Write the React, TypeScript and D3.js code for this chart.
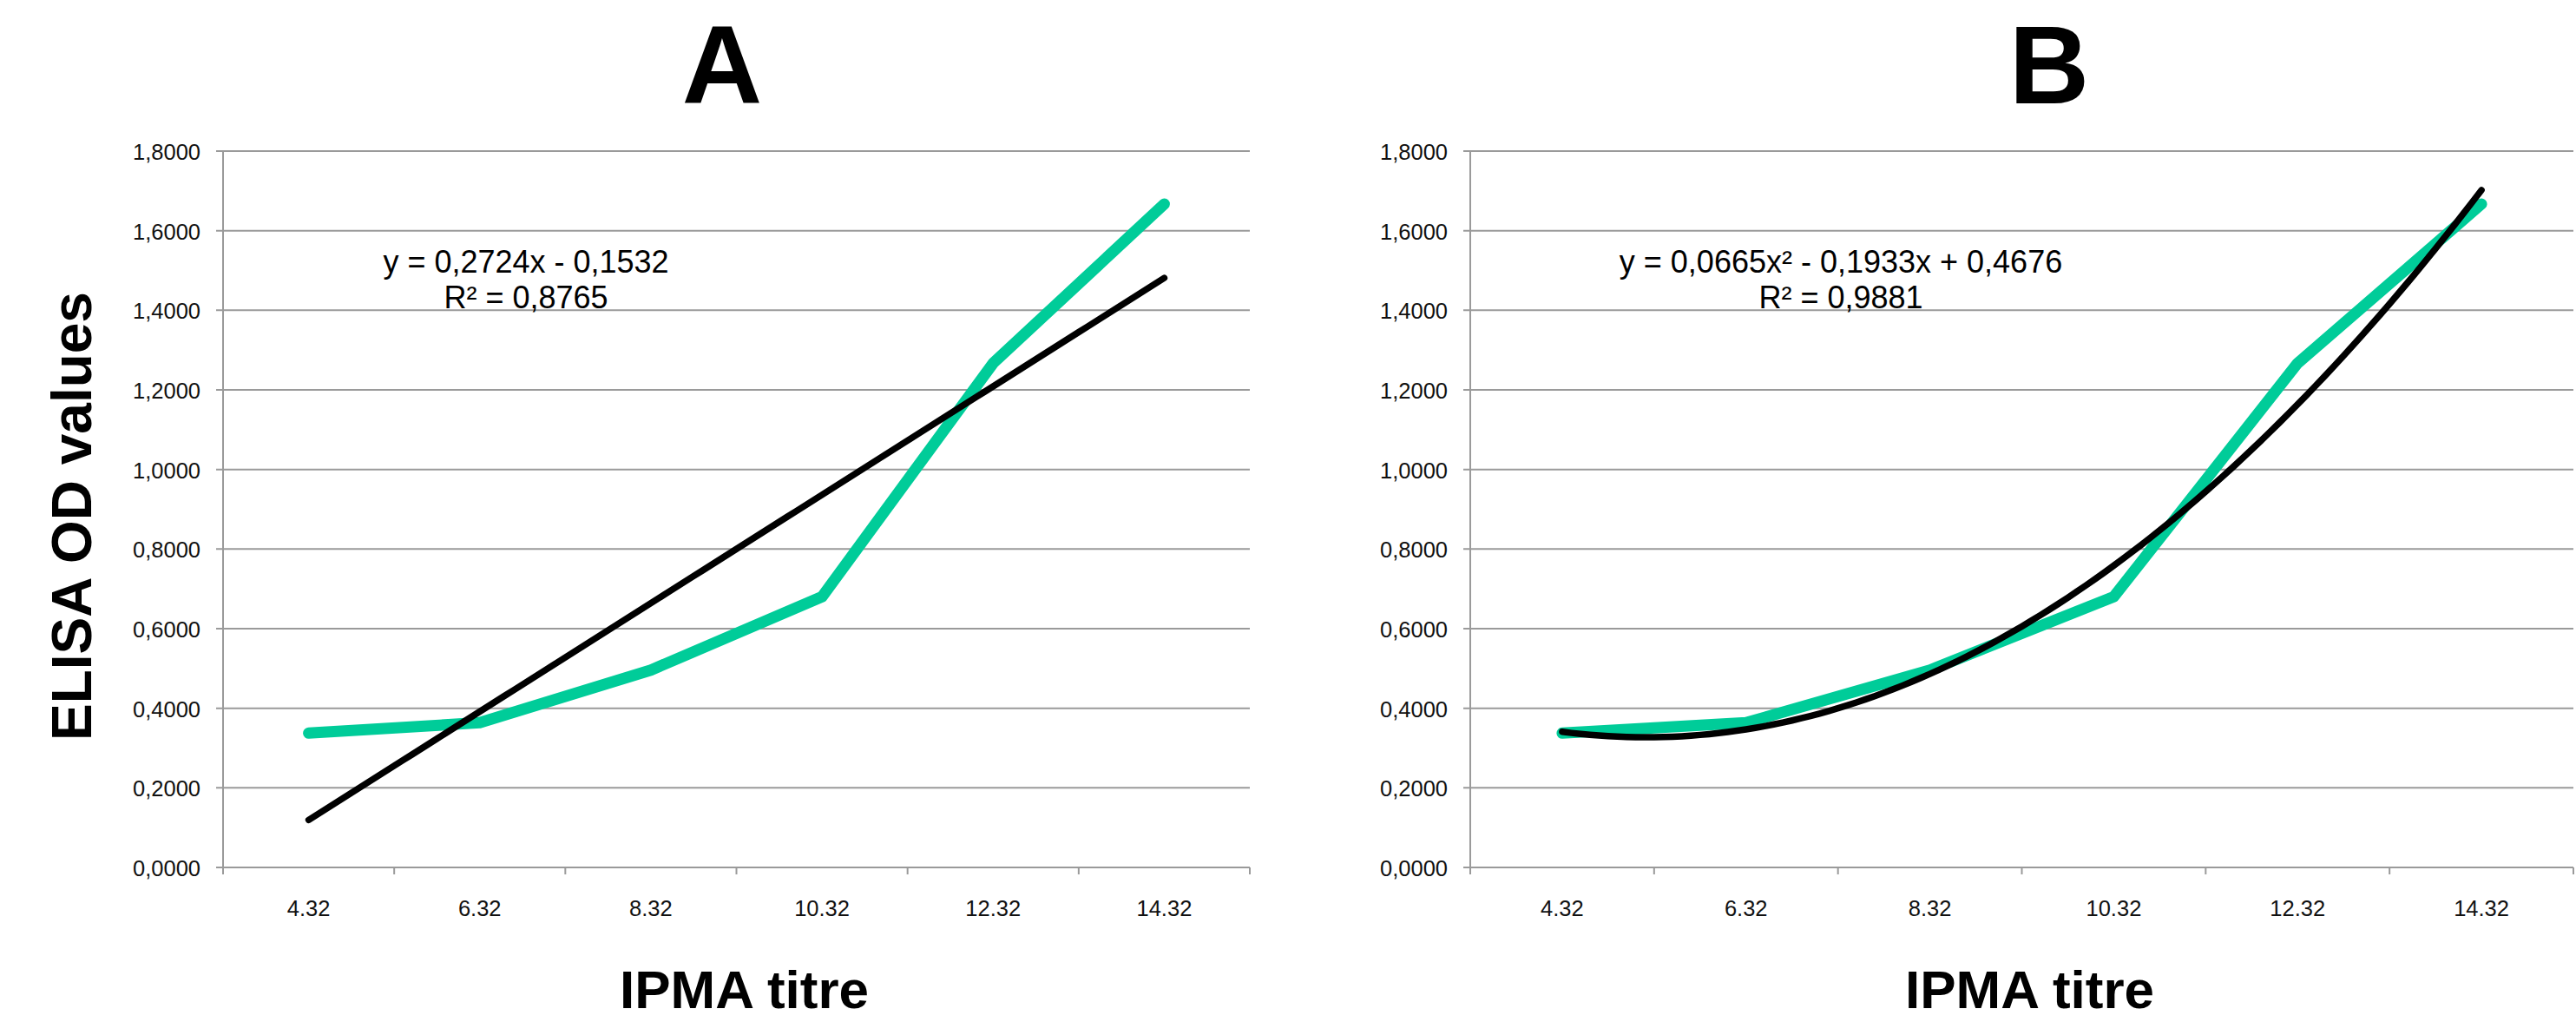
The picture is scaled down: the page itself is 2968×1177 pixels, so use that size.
import React from 'react';
import * as d3 from 'd3';

// IPMA titre categories and mean ELISA OD readings (same data on both panels)
const titres = ['4.32', '6.32', '8.32', '10.32', '12.32', '14.32'];
const odValues = [0.3375, 0.3637, 0.496, 0.68, 1.267, 1.667];
const yTicks = [0, 0.2, 0.4, 0.6, 0.8, 1.0, 1.2, 1.4, 1.6, 1.8];

// Excel trendline coefficients, highest power first, x = category index 1..6
const linearFit = [0.2724, -0.1532];
const quadFit = [0.0665, -0.1933, 0.4676];
const linearLabel = ['y = 0,2724x - 0,1532', 'R² = 0,8765'];
const quadLabel = ['y = 0,0665x² - 0,1933x + 0,4676', 'R² = 0,9881'];

const W = 2968;
const H = 1177;
const TOP = 174;
const BOTTOM = 999;
const FONT = 'Arial, "Liberation Sans", sans-serif';
const GREEN = '#00cc99';
const GRID = '#9a9a9a';

const polyAt = (c: number[], x: number) => c.reduce((acc, k) => acc * x + k, 0);
const fmtTick = (v: number) => d3.format('.4f')(v).replace('.', ',');

interface PanelProps {
  left: number;
  right: number;
  title: string;
  titleX: number;
  fit: number[];
  label: string[];
  labelX: number;
  yTitle?: boolean;
}

function Panel({ left, right, title, titleX, fit, label, labelX, yTitle }: PanelProps) {
  const y = d3.scaleLinear().domain([0, 1.8]).range([BOTTOM, TOP]);
  const band = d3.scaleBand<string>().domain(titres).range([left, right]).padding(0);
  // continuous index scale so the trendline lines up with category centres
  const xi = d3.scaleLinear().domain([0.5, titres.length + 0.5]).range([left, right]);
  const boundaries = d3.range(titres.length + 1).map(i => left + i * band.step());

  const dataLine = d3.line<number>()
    .x((_, i) => xi(i + 1))
    .y(d => y(d));

  const fitPts = d3.range(1, titres.length + 0.0001, 0.05);
  const fitLine = d3.line<number>()
    .x(t => xi(t))
    .y(t => y(polyAt(fit, t)));

  return (
    <g>
      <text x={titleX} y={119} textAnchor="middle" fontSize={128} fontWeight="bold" fontFamily={FONT}>{title}</text>

      {/* gridlines + y ticks */}
      {yTicks.map(t => (
        <g key={t}>
          <line x1={left - 8} x2={right} y1={y(t)} y2={y(t)} stroke={GRID} strokeWidth={2} />
          <text x={left - 26} y={y(t) + 10} textAnchor="end" fontSize={25.5} fill="#111" fontFamily={FONT}>{fmtTick(t)}</text>
        </g>
      ))}
      <line x1={left} x2={left} y1={TOP} y2={BOTTOM} stroke={GRID} strokeWidth={2} />

      {/* category ticks */}
      {boundaries.map((bx, i) => (
        <line key={i} x1={bx} x2={bx} y1={BOTTOM} y2={BOTTOM + 8} stroke={GRID} strokeWidth={2} />
      ))}
      {titres.map(c => (
        <text key={c} x={(band(c) ?? 0) + band.bandwidth() / 2} y={1055} textAnchor="middle" fontSize={25.5} fill="#111" fontFamily={FONT}>{c}</text>
      ))}

      <path d={dataLine(odValues) ?? ''} fill="none" stroke={GREEN} strokeWidth={13} strokeLinejoin="round" strokeLinecap="round" />
      <path d={fitLine(fitPts) ?? ''} fill="none" stroke="#000" strokeWidth={7.5} strokeLinecap="round" />

      <text x={labelX} y={314} textAnchor="middle" fontSize={36} fontFamily={FONT}>{label[0]}</text>
      <text x={labelX} y={355} textAnchor="middle" fontSize={36} fontFamily={FONT}>{label[1]}</text>

      <text x={(left + right) / 2 + 9} y={1161} textAnchor="middle" fontSize={62} fontWeight="bold" fontFamily={FONT}>IPMA titre</text>
      {yTitle && (
        <text transform={`translate(105,${(TOP + BOTTOM) / 2 + 8}) rotate(-90)`} textAnchor="middle" fontSize={64} fontWeight="bold" fontFamily={FONT}>ELISA OD values</text>
      )}
    </g>
  );
}

export default function App() {
  return (
    <svg width={W} height={H} style={{ position: 'absolute', left: 0, top: 0, background: '#fff' }}>
      <rect width={W} height={H} fill="#fff" />
      <Panel left={257} right={1440} title="A" titleX={832} fit={linearFit} label={linearLabel} labelX={606} yTitle />
      <Panel left={1694} right={2965} title="B" titleX={2361} fit={quadFit} label={quadLabel} labelX={2121} />
    </svg>
  );
}
